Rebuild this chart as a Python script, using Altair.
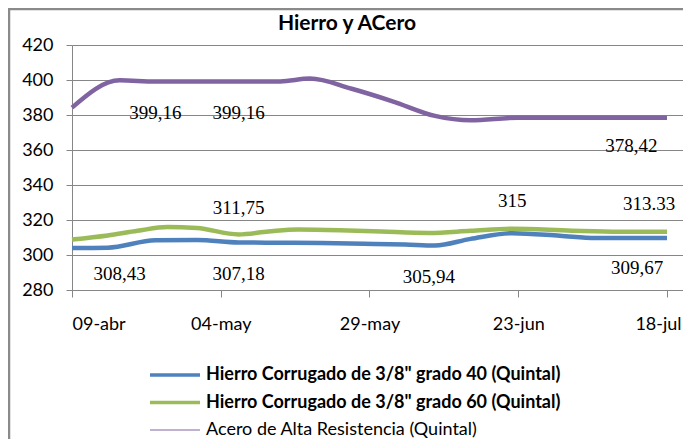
import altair as alt
import pandas as pd

title_text = "Hierro y ACero"
start_date = "2011-04-09"

series_names = [
    'Hierro Corrugado de 3/8" grado 40 (Quintal)',
    'Hierro Corrugado de 3/8" grado 60 (Quintal)',
    'Acero de Alta Resistencia (Quintal)',
]
series_colors = ["#4F81BD", "#9BBB59", "#8064A2"]

blue_dates = ["2011-04-09", "2011-04-15", "2011-04-23", "2011-04-30", "2011-05-07",
              "2011-05-14", "2011-05-21", "2011-05-28", "2011-06-04", "2011-06-09",
              "2011-06-15", "2011-06-22", "2011-06-30", "2011-07-06", "2011-07-18"]
blue_values = [304.0, 304.2, 308.43, 308.6, 307.18, 307.0, 306.8, 306.4, 305.94, 305.4,
               309.2, 312.5, 311.0, 309.67, 309.67]

green_dates = ["2011-04-09", "2011-04-15", "2011-04-20", "2011-04-25", "2011-04-30",
               "2011-05-07", "2011-05-12", "2011-05-17", "2011-05-24", "2011-05-31",
               "2011-06-08", "2011-06-15", "2011-06-22", "2011-07-02", "2011-07-10",
               "2011-07-18"]
green_values = [308.8, 311.2, 313.8, 316.0, 315.4, 311.75, 313.4, 314.6, 314.2, 313.4,
                312.6, 313.8, 315.0, 313.9, 313.33, 313.33]

purple_dates = ["2011-04-09", "2011-04-17", "2011-04-23", "2011-04-30", "2011-05-07",
                "2011-05-14", "2011-05-19", "2011-05-26", "2011-06-02", "2011-06-09",
                "2011-06-15", "2011-06-23", "2011-07-03", "2011-07-12", "2011-07-18"]
purple_values = [384.2, 399.8, 399.16, 399.16, 399.16, 399.2, 400.8, 395.0, 387.7, 379.5,
                 377.0, 378.42, 378.42, 378.42, 378.42]

tick_dates = ["2011-04-09", "2011-05-04", "2011-05-29", "2011-06-23", "2011-07-18"]
tick_labels = ["09-abr", "04-may", "29-may", "23-jun", "18-jul"]
axis_end_date = "2011-07-20T16:35"
y_ticks = [280, 300, 320, 340, 360, 380, 400, 420]

ann_text = ["399,16", "399,16", "378,42", "311,75", "315", "313.33",
            "308,43", "307,18", "305,94", "309,67"]
ann_dates = ["2011-04-23", "2011-05-07", "2011-07-12", "2011-05-07", "2011-06-22",
             "2011-07-15", "2011-04-17", "2011-05-07", "2011-06-08", "2011-07-13"]
ann_values = [381.1, 381.1, 362.3, 327.1, 330.9, 328.9, 289.4, 289.4, 287.7, 292.3]

t0 = pd.Timestamp(start_date)


def days(ds):
    return [(pd.Timestamp(d) - t0).total_seconds() / 86400.0 for d in ds]


rows = []
for name, ds, vs in [(series_names[0], blue_dates, blue_values),
                     (series_names[1], green_dates, green_values),
                     (series_names[2], purple_dates, purple_values)]:
    for d, v in zip(days(ds), vs):
        rows.append({"serie": name, "day": d, "value": v})
lines_df = pd.DataFrame(rows)

ann_df = pd.DataFrame({"label": ann_text, "day": days(ann_dates), "value": ann_values})
legend_df = pd.DataFrame({"serie": series_names, "idx": list(range(len(series_names)))})

tick_days = days(tick_dates)
label_map = "{" + ",".join('"%g":"%s"' % (d, l) for d, l in zip(tick_days, tick_labels)) + "}"
x_end = days([axis_end_date])[0]
last_tick = tick_days[-1]

W, H = 611, 245
FONT = "Lato"

x_scale = alt.Scale(domain=[0, x_end], nice=False, zero=False)
y_scale = alt.Scale(domain=[280, 420], nice=False, zero=False)
x_axis = alt.Axis(values=tick_days, labelExpr=label_map + "[datum.value]", title=None,
                  grid=False, tickSize=7, labelPadding=18, labelFontSize=18,
                  labelOffset=alt.condition("datum.value >= %g" % last_tick,
                                            alt.value(-9), alt.value(0)))
y_axis = alt.Axis(values=y_ticks, title=None, grid=True, tickSize=6, labelPadding=13,
                  labelFontSize=18)
color_scale = alt.Scale(domain=series_names, range=series_colors)

border = alt.Chart(alt.Data(values=[{}])).mark_rect(
    fill=None, stroke="#8a8a8a", strokeWidth=2.5
).encode(x=alt.value(-63), x2=alt.value(720), y=alt.value(-36), y2=alt.value(520))

lines = alt.Chart(lines_df).mark_line(interpolate="monotone", strokeWidth=4.5).encode(
    x=alt.X("day:Q", scale=x_scale, axis=x_axis),
    y=alt.Y("value:Q", scale=y_scale, axis=y_axis),
    color=alt.Color("serie:N", scale=color_scale, legend=None),
    detail="serie:N",
)

ann = alt.Chart(ann_df).mark_text(font="Liberation Serif", fontSize=19, color="#000",
                                  baseline="middle", align="center").encode(
    x=alt.X("day:Q", scale=x_scale, axis=x_axis),
    y=alt.Y("value:Q", scale=y_scale, axis=y_axis),
    text="label:N",
)

title = alt.Chart(alt.Data(values=[{"t": title_text}])).mark_text(
    font=FONT, fontSize=21, fontWeight="bold", color="#000", baseline="middle", align="center"
).encode(x=alt.value(275), y=alt.value(-21), text="t:N")

legend_base = alt.Chart(legend_df).transform_calculate(ly="330 + 27.5 * datum.idx")
leg_rule = legend_base.mark_rule().encode(
    x=alt.value(78), x2=alt.value(128),
    y=alt.Y("ly:Q", scale=None),
    color=alt.Color("serie:N", scale=color_scale, legend=None),
    strokeWidth=alt.condition("datum.idx < 2", alt.value(3.5), alt.value(1.2)),
)
leg_text_bold = legend_base.transform_filter("datum.idx < 2").mark_text(
    font=FONT, fontSize=18, fontWeight="bold", color="#000", align="left", baseline="middle"
).encode(x=alt.value(134), y=alt.Y("ly:Q", scale=None), text="serie:N")
leg_text_norm = legend_base.transform_filter("datum.idx >= 2").mark_text(
    font=FONT, fontSize=18, color="#000", align="left", baseline="middle"
).encode(x=alt.value(134), y=alt.Y("ly:Q", scale=None), text="serie:N")

chart = alt.layer(border, lines, ann, title, leg_rule, leg_text_bold, leg_text_norm).properties(
    width=W, height=H,
    autosize=alt.AutoSizeParams(type="none"),
    padding={"left": 64, "top": 37, "right": 0, "bottom": 149},
    background="white",
).configure_view(stroke=None).configure_axis(
    domainColor="#868686", tickColor="#868686", gridColor="#868686",
    labelFont=FONT, labelColor="#000", domainWidth=1, gridWidth=1,
)

chart.save("out.html", embed_options={"renderer": "svg", "actions": False})
